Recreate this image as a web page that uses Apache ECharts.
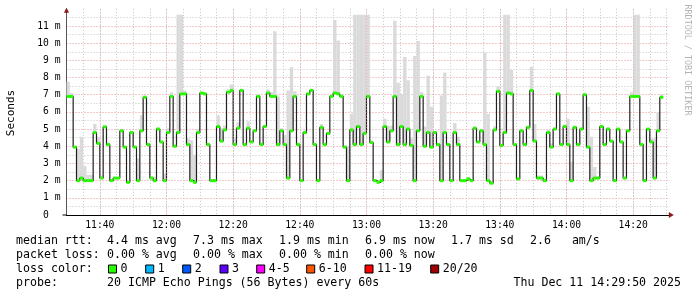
<!DOCTYPE html>
<html><head><meta charset="utf-8">
<script src="https://cdn.jsdelivr.net/npm/echarts@6/dist/echarts.min.js"></script>
<style>html,body{margin:0;padding:0;background:#fff}#c{width:697px;height:297px}</style>
</head><body><div id="c"></div>
<script>
// minutes since 11:30, one value per minute (median RTT in ms)
const median = [
6.9,6.9,3.95,2.0,2.15,2.0,2.0,2.0,4.8,4.17,
2.15,5.13,4.1,2.0,2.15,2.15,4.9,3.95,1.9,4.8,
3.95,2.0,4.9,6.85,4.1,2.15,2.0,5.0,4.25,2.0,
4.8,6.9,4.0,4.8,7.05,7.05,4.1,2.0,1.9,4.8,
7.1,7.05,4.1,2.0,2.0,5.15,4.3,4.95,7.15,7.25,
4.1,5.05,7.25,4.1,5.05,4.25,4.9,6.9,4.1,5.15,
7.1,6.9,6.9,4.1,4.9,4.1,2.15,4.9,6.9,4.1,
2.0,4.8,7.05,7.25,4.1,2.0,5.1,4.1,4.75,6.9,
7.1,7.05,6.9,3.95,2.0,4.95,4.1,5.15,4.1,4.75,
6.9,4.22,2.0,1.9,2.0,5.15,4.25,4.9,6.9,4.1,
5.15,4.1,5.0,4.05,2.0,4.9,6.9,4.0,4.8,3.95,
4.8,4.1,2.0,4.8,4.1,2.0,4.8,4.1,2.0,2.0,
2.1,2.0,5.05,4.25,4.9,4.1,2.0,1.85,4.95,7.2,
4.05,4.8,7.1,7.05,4.1,2.1,4.9,4.1,5.1,7.25,
4.3,2.15,2.15,2.0,4.8,3.95,5.0,7.05,4.1,5.15,
4.1,2.0,5.1,4.1,5.0,7.0,3.95,2.0,2.15,2.15,
5.15,4.1,5.0,4.3,2.0,5.0,4.25,2.15,4.9,6.9,
6.9,6.9,4.1,2.0,5.0,4.25,2.15,4.9,6.85
];
// top of the ping "smoke" for each minute (ms)
const smokeTop = [
7.75,7.1,4.0,3.85,4.55,2.85,2.35,2.35,5.3,4.55,
2.3,5.2,4.2,2.1,2.2,2.2,5.0,4.0,2.0,4.9,
4.05,3.3,5.8,6.95,4.2,2.25,2.2,5.1,4.3,2.4,
5.05,7.15,4.1,11.65,11.65,7.25,4.45,4.35,3.5,4.98,
7.15,7.1,4.2,2.1,2.1,5.8,5.05,5.2,7.3,7.6,
4.45,5.4,7.35,4.2,5.45,4.35,5.0,7.0,4.2,5.2,
7.3,7.15,10.7,6.9,5.05,4.65,7.25,8.6,7.2,4.2,
2.1,4.9,7.1,7.35,4.2,2.1,5.3,4.2,4.85,7.0,
11.35,10.15,7.05,4.05,4.0,5.9,11.65,11.65,11.65,11.65,
11.65,4.3,2.1,2.0,2.6,5.6,5.2,5.2,11.3,7.7,
7.05,9.2,7.85,4.45,9.25,10.13,7.15,5.15,8.1,6.3,
4.9,4.2,6.95,8.3,4.2,2.1,5.35,4.55,2.1,2.1,
2.2,2.1,5.15,4.3,5.0,9.45,5.9,2.0,5.15,7.5,
4.15,11.65,11.65,8.45,4.2,2.2,5.0,4.2,5.2,8.63,
5.3,2.3,2.3,2.1,4.98,4.17,5.1,7.1,4.2,5.25,
5.6,3.1,5.2,4.2,5.1,7.05,6.3,4.55,2.8,2.25,
5.2,4.2,5.1,4.35,2.1,5.05,4.3,2.2,5.0,7.15,
11.65,11.65,4.2,2.1,5.05,4.45,4.45,6.0,7.05
];
const xTickLabels = ['11:40','12:00','12:20','12:40','13:00','13:20','13:40','14:00','14:20'];
const yTickLabels = ['0  ','1 m','2 m','3 m','4 m','5 m','6 m','7 m','8 m','9 m','10 m','11 m'];
const rttStats = ['4.4 ms avg','7.3 ms max','1.9 ms min','6.9 ms now','1.7 ms sd','2.6   am/s'];
const lossStats = ['0.00 % avg','0.00 % max','0.00 % min','0.00 % now'];
const lossLevels = ['0','1','2','3','4-5','6-10','11-19','20/20'];
const lossColors = ['#26ff00','#00b8ff','#0059ff','#5e00ff','#ff00ff','#ff5500','#ff0000','#a10000'];
const probeText = '20 ICMP Echo Pings (56 Bytes) every 60s';
const dateText = 'Thu Dec 11 14:29:50 2025';

const FONT = 'DejaVu Sans Mono';
const RED = 'rgba(225,110,110,0.75)';
const GREY = '#c4c4c4';

const chart = echarts.init(document.getElementById('c'), null, {renderer:'canvas'});
const smokeData = median.map((m,k)=>[k, m, smokeTop[k]]);
const lineData = median.map((m,k)=>[k, m]).concat([[median.length, median[median.length-1]]]);

// layout constants
const statX = [107,193,279,365,451,530];
const boxX = [108.5,145.7,182.7,220,256.7,306.7,365,430.7];
const rowY = [241,255,269,283];

const graphics = [];
function txt(x,y,s,opts){ graphics.push(Object.assign({type:'text', x:x, y:y, style:{text:s, font:'11.6px "'+FONT+'"', fill:'#000', textVerticalAlign:'middle', textAlign:'left'}}, opts||{})); }
txt(16,rowY[0],'median rtt:');
rttStats.forEach((s,i)=>txt(statX[i],rowY[0],s));
txt(16,rowY[1],'packet loss:');
lossStats.forEach((s,i)=>txt(statX[i],rowY[1],s));
txt(16,rowY[2],'loss color:');
lossLevels.forEach((s,i)=>{
  graphics.push({type:'rect', shape:{x:boxX[i], y:rowY[2]-4, width:8, height:8}, style:{fill:lossColors[i], stroke:'#000', lineWidth:1}});
  txt(boxX[i]+12, rowY[2], s);
});
txt(16,rowY[3],'probe:');
txt(107,rowY[3],probeText);
graphics.push({type:'text', x:681, y:rowY[3], style:{text:dateText, font:'11.6px "'+FONT+'"', fill:'#000', textVerticalAlign:'middle', textAlign:'right'}});
graphics.push({type:'text', x:11, y:113, rotation:Math.PI/2, style:{text:'Seconds', font:'11px "'+FONT+'"', fill:'#000', textVerticalAlign:'middle', textAlign:'center'}});
graphics.push({type:'text', x:687, y:60, rotation:-Math.PI/2, style:{text:'RRDTOOL / TOBI OETIKER', font:'8.4px "'+FONT+'"', fill:'#b4b4b4', textVerticalAlign:'middle', textAlign:'center'}});

const option = {
  animation:false,
  backgroundColor:'#fff',
  grid:{left:66.5, top:8.84, width:603.3, height:206.16, containLabel:false},
  xAxis:{type:'value', min:0, max:181, interval:5,
    axisLine:{show:true, lineStyle:{color:'#000', width:1}},
    axisTick:{show:false},
    axisLabel:{margin:5, fontFamily:FONT, fontSize:9.7, color:'#000', showMaxLabel:false,
      formatter:(v)=> (v%20===10 ? (xTickLabels[(v-10)/20]||'') : '')},
    splitLine:{show:true, showMaxLine:false, lineStyle:{color:GREY, type:[1,2], width:1}}
  },
  yAxis:{type:'value', min:0, max:12, interval:1,
    axisLine:{show:true, lineStyle:{color:'#555', width:1}},
    axisTick:{show:false},
    axisLabel:{margin:6, fontFamily:FONT, fontSize:9.7, color:'#000',
      formatter:(v)=> (Number.isInteger(v) && v<=11 ? yTickLabels[v] : '')},
    splitLine:{show:true, showMaxLine:false, lineStyle:{color:RED, type:[1,2], width:1}},
    minorTick:{show:false, splitNumber:2},
    minorSplitLine:{show:true, lineStyle:{color:GREY, type:[1,2], width:1}}
  },
  series:[
    {type:'line', name:'majorgrid', data:[], z:0, silent:true,
      markLine:{silent:true, symbol:'none', label:{show:false}, animation:false,
        lineStyle:{color:'rgba(232,140,140,0.55)', type:[1,2], width:1},
        data:xTickLabels.map((_,i)=>({xAxis:10+20*i}))}},
    {type:'custom', name:'smoke', clip:true, z:1, data:smokeData,
      renderItem:(params, api)=>{
        const k=api.value(0), lo=api.value(1), hi=api.value(2);
        const a=api.coord([k,hi]), b=api.coord([k+1,lo]);
        return {type:'rect', shape:{x:a[0], y:a[1], width:b[0]-a[0], height:b[1]-a[1]}, style:{fill:'#dadada'}};
      }},
    {type:'line', name:'median', step:'end', data:lineData, symbol:'none', z:2,
      lineStyle:{color:'#202020', width:1.2}},
    {type:'custom', name:'loss', z:3, data:median.map((m,k)=>[k,m]),
      renderItem:(params, api)=>{
        const k=api.value(0), m=api.value(1);
        const a=api.coord([k,m]), b=api.coord([k+1,m]);
        return {type:'rect', shape:{x:a[0], y:a[1]-1.5, width:b[0]-a[0], height:3}, style:{fill:lossColors[0]}};
      }}
  ],
  graphic:graphics
};
chart.setOption(option);
// axis arrows and stub (decoration)
const pO = chart.convertToPixel({gridIndex:0},[0,0]);
const pTop = chart.convertToPixel({gridIndex:0},[0,12]);
const pRight = chart.convertToPixel({gridIndex:0},[181,0]);
graphics.push({type:'line', shape:{x1:pO[0]-4, y1:pO[1], x2:pO[0], y2:pO[1]}, style:{stroke:'#000', lineWidth:1}, z:10});
graphics.push({type:'polygon', shape:{points:[[pO[0],pTop[1]-1],[pO[0]-2.6,pTop[1]+4],[pO[0]+2.6,pTop[1]+4]]}, style:{fill:'#8b1a1a'}, z:10});
graphics.push({type:'polygon', shape:{points:[[pRight[0]+4,pO[1]],[pRight[0]-1,pO[1]-3],[pRight[0]-1,pO[1]+3]]}, style:{fill:'#8b1a1a'}, z:10});
chart.setOption({graphic:graphics});
</script></body></html>
